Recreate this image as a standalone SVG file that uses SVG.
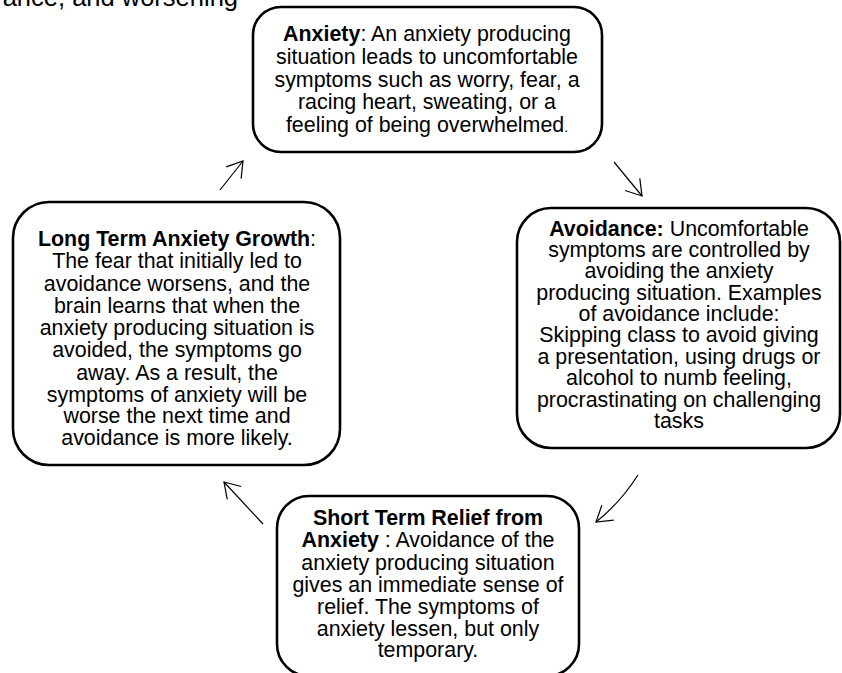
<svg xmlns="http://www.w3.org/2000/svg" width="842" height="673" viewBox="0 0 842 673">
<style>
  .box { fill: #fff; stroke: #000; stroke-width: 2.6; }
  .t { font-family: "Liberation Sans", Arial, sans-serif; font-size: 21.4px; fill: #000; text-anchor: middle; }
  .b { font-weight: bold; }
  .conn { fill: none; stroke: #000; stroke-width: 1.2; }
</style>
<defs>
  <marker id="open" markerUnits="userSpaceOnUse" markerWidth="40" markerHeight="40" viewBox="-20 -20 40 40" refX="0" refY="0" orient="auto">
    <path d="M-15,-9.5 L0,0 L-15,9.5" fill="none" stroke="#000" stroke-width="1.2"/>
  </marker>
</defs>
<rect width="842" height="673" fill="#fff"/>
<text x="238" y="6" font-family="Liberation Sans, Arial, sans-serif" font-size="25.5" text-anchor="end">ance, and worsening</text>

<g id="node-anxiety">
  <rect class="box" x="253" y="7" width="349" height="145" rx="28"/>
  <text class="t" x="427" y="41"><tspan class="b">Anxiety</tspan>: An anxiety producing</text>
  <text class="t" x="427" y="64">situation leads to uncomfortable</text>
  <text class="t" x="427" y="87">symptoms such as worry, fear, a</text>
  <text class="t" x="427" y="109">racing heart, sweating, or a</text>
  <text class="t" x="427" y="132">feeling of being overwhelmed<tspan font-size="14">.</tspan></text>
</g>

<g id="node-avoidance">
  <rect class="box" x="517" y="208" width="323" height="240" rx="34"/>
  <text class="t" x="679" y="236"><tspan class="b">Avoidance:</tspan> Uncomfortable</text>
  <text class="t" x="679" y="257">symptoms are controlled by</text>
  <text class="t" x="679" y="278">avoiding the anxiety</text>
  <text class="t" x="679" y="300">producing situation. Examples</text>
  <text class="t" x="679" y="321">of avoidance include:</text>
  <text class="t" x="679" y="342">Skipping class to avoid giving</text>
  <text class="t" x="679" y="364">a presentation, using drugs or</text>
  <text class="t" x="679" y="385">alcohol to numb feeling,</text>
  <text class="t" x="679" y="407">procrastinating on challenging</text>
  <text class="t" x="679" y="428">tasks</text>
</g>

<g id="node-relief">
  <rect class="box" x="277" y="496" width="302" height="180" rx="32"/>
  <text class="t" x="428" y="525"><tspan class="b">Short Term Relief from</tspan></text>
  <text class="t" x="428" y="547"><tspan class="b">Anxiety</tspan> : Avoidance of the</text>
  <text class="t" x="428" y="570">anxiety producing situation</text>
  <text class="t" x="428" y="592">gives an immediate sense of</text>
  <text class="t" x="428" y="614">relief. The symptoms of</text>
  <text class="t" x="428" y="636">anxiety lessen, but only</text>
  <text class="t" x="428" y="657">temporary.</text>
</g>

<g id="node-growth">
  <rect class="box" x="13" y="202" width="327" height="263" rx="36"/>
  <text class="t" x="177" y="246"><tspan class="b">Long Term Anxiety Growth</tspan>:</text>
  <text class="t" x="177" y="268">The fear that initially led to</text>
  <text class="t" x="177" y="291">avoidance worsens, and the</text>
  <text class="t" x="177" y="313">brain learns that when the</text>
  <text class="t" x="177" y="335">anxiety producing situation is</text>
  <text class="t" x="177" y="357">avoided, the symptoms go</text>
  <text class="t" x="177" y="380">away. As a result, the</text>
  <text class="t" x="177" y="402">symptoms of anxiety will be</text>
  <text class="t" x="177" y="423">worse the next time and</text>
  <text class="t" x="177" y="445">avoidance is more likely.</text>
</g>

<g id="connectors">
  <path class="conn" d="M220,190 L243,161" marker-end="url(#open)"/>
  <path class="conn" d="M614,162 L642,196" marker-end="url(#open)"/>
  <path class="conn" d="M638,475 Q620,503 596,522" marker-end="url(#open)"/>
  <path class="conn" d="M263,524 L224,482" marker-end="url(#open)"/>
</g>
</svg>
